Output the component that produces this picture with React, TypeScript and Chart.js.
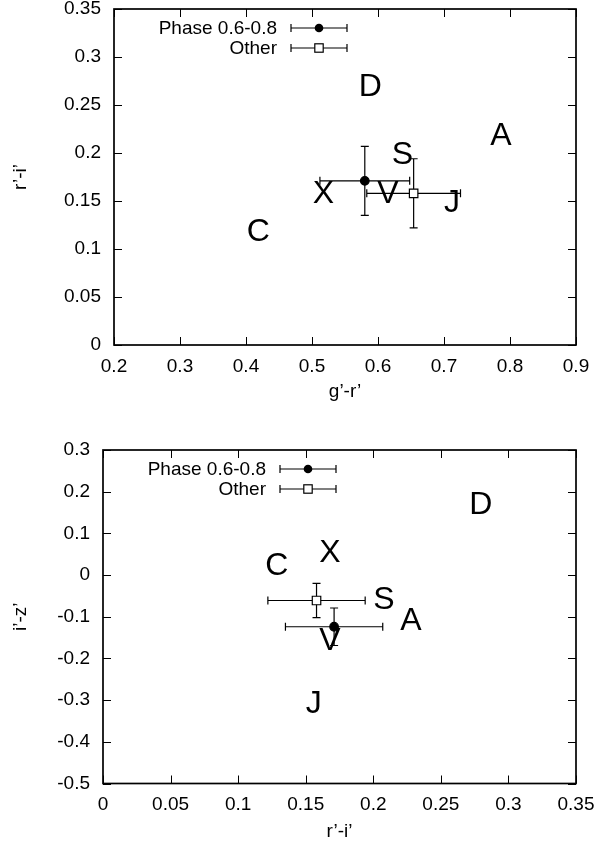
import React, { useEffect, useRef } from "react";
import { Chart, registerables } from "chart.js";

Chart.register(...registerables);

// ---- data ----
const STAR_NAMES = ["A", "C", "D", "J", "S", "V", "X"];
const STAR_GR = [0.770, 0.401, 0.571, 0.700, 0.621, 0.599, 0.501];
const STAR_RI = [0.220, 0.120, 0.271, 0.150, 0.200, 0.160, 0.160];
const STAR_IZ = [-0.105, 0.028, 0.175, -0.304, -0.053, -0.153, 0.060];

const SERIES_NAMES = ["Phase 0.6-0.8", "Other"];
const SERIES_GR = [0.580, 0.654];
const SERIES_GR_ERR = [0.068, 0.071];
const SERIES_RI = [0.171, 0.158];
const SERIES_RI_ERR = [0.036, 0.036];
const SERIES_IZ = [-0.124, -0.061];
const SERIES_IZ_ERR = [0.045, 0.041];

const TOP_X_TICKS = [0.2, 0.3, 0.4, 0.5, 0.6, 0.7, 0.8, 0.9];
const TOP_X_LABELS = ["0.2", "0.3", "0.4", "0.5", "0.6", "0.7", "0.8", "0.9"];
const TOP_Y_TICKS = [0, 0.05, 0.1, 0.15, 0.2, 0.25, 0.3, 0.35];
const TOP_Y_LABELS = ["0", "0.05", "0.1", "0.15", "0.2", "0.25", "0.3", "0.35"];
const BOT_X_TICKS = [0, 0.05, 0.1, 0.15, 0.2, 0.25, 0.3, 0.35];
const BOT_X_LABELS = ["0", "0.05", "0.1", "0.15", "0.2", "0.25", "0.3", "0.35"];
const BOT_Y_TICKS = [-0.5, -0.4, -0.3, -0.2, -0.1, 0, 0.1, 0.2, 0.3];
const BOT_Y_LABELS = ["-0.5", "-0.4", "-0.3", "-0.2", "-0.1", "0", "0.1", "0.2", "0.3"];

const FONT_FAMILY = "'Liberation Sans', Arial, Helvetica, sans-serif";
const TEXT_SIZE = 19;
const LETTER_SIZE = 32;

type Spec = {
  canvasHeight: number;
  areaLeft: number;
  areaRight: number;
  areaTop: number;
  areaBottom: number;
  xTitleBottomOffset: number;
  yTitleCenterX: number;
  xTicks: number[];
  xLabels: string[];
  yTicks: number[];
  yLabels: string[];
  xTitle: string;
  yTitle: string;
  starX: number[];
  starY: number[];
  serX: number[];
  serXErr: number[];
  serY: number[];
  serYErr: number[];
};

const TOP_SPEC: Spec = {
  canvasHeight: 420,
  areaLeft: 114,
  areaRight: 576,
  areaTop: 9,
  areaBottom: 345,
  xTitleBottomOffset: 28,
  yTitleCenterX: 21,
  xTicks: TOP_X_TICKS,
  xLabels: TOP_X_LABELS,
  yTicks: TOP_Y_TICKS,
  yLabels: TOP_Y_LABELS,
  xTitle: "g\u2019-r\u2019",
  yTitle: "r\u2019-i\u2019",
  starX: STAR_GR,
  starY: STAR_RI,
  serX: SERIES_GR,
  serXErr: SERIES_GR_ERR,
  serY: SERIES_RI,
  serYErr: SERIES_RI_ERR,
};

const BOT_SPEC: Spec = {
  canvasHeight: 429,
  areaLeft: 103,
  areaRight: 576,
  areaTop: 30,
  areaBottom: 363.5,
  xTitleBottomOffset: 17,
  yTitleCenterX: 21,
  xTicks: BOT_X_TICKS,
  xLabels: BOT_X_LABELS,
  yTicks: BOT_Y_TICKS,
  yLabels: BOT_Y_LABELS,
  xTitle: "r\u2019-i\u2019",
  yTitle: "i\u2019-z\u2019",
  starX: STAR_RI,
  starY: STAR_IZ,
  serX: SERIES_RI,
  serXErr: SERIES_RI_ERR,
  serY: SERIES_IZ,
  serYErr: SERIES_IZ_ERR,
};

function makeDecorPlugin(spec: Spec) {
  return {
    id: "decor",
    beforeDatasetsDraw(chart: any) {
      const xs = chart.scales.x;
      const ys = chart.scales.y;
      const ctx = chart.ctx;
      ctx.save();
      ctx.strokeStyle = "#000";
      ctx.lineWidth = 1.2;
      const cap = 4;
      for (let i = 0; i < spec.serX.length; i++) {
        const cx = xs.getPixelForValue(spec.serX[i]);
        const cy = ys.getPixelForValue(spec.serY[i]);
        const x0 = xs.getPixelForValue(spec.serX[i] - spec.serXErr[i]);
        const x1 = xs.getPixelForValue(spec.serX[i] + spec.serXErr[i]);
        const y0 = ys.getPixelForValue(spec.serY[i] - spec.serYErr[i]);
        const y1 = ys.getPixelForValue(spec.serY[i] + spec.serYErr[i]);
        ctx.beginPath();
        ctx.moveTo(x0, cy);
        ctx.lineTo(x1, cy);
        ctx.moveTo(x0, cy - cap);
        ctx.lineTo(x0, cy + cap);
        ctx.moveTo(x1, cy - cap);
        ctx.lineTo(x1, cy + cap);
        ctx.moveTo(cx, y0);
        ctx.lineTo(cx, y1);
        ctx.moveTo(cx - cap, y0);
        ctx.lineTo(cx + cap, y0);
        ctx.moveTo(cx - cap, y1);
        ctx.lineTo(cx + cap, y1);
        ctx.stroke();
      }
      ctx.restore();
    },
    afterDraw(chart: any) {
      const xs = chart.scales.x;
      const ys = chart.scales.y;
      const area = chart.chartArea;
      const ctx = chart.ctx;
      ctx.save();
      // tick marks inside, mirrored
      ctx.strokeStyle = "#000";
      ctx.lineWidth = 1;
      const tl = 8;
      ctx.beginPath();
      spec.xTicks.forEach((v) => {
        const px = Math.round(xs.getPixelForValue(v)) + 0.5;
        ctx.moveTo(px, area.bottom);
        ctx.lineTo(px, area.bottom - tl);
        ctx.moveTo(px, area.top);
        ctx.lineTo(px, area.top + tl);
      });
      spec.yTicks.forEach((v) => {
        const py = Math.round(ys.getPixelForValue(v)) + 0.5;
        ctx.moveTo(area.left, py);
        ctx.lineTo(area.left + tl, py);
        ctx.moveTo(area.right, py);
        ctx.lineTo(area.right - tl, py);
      });
      ctx.stroke();
      // border box
      ctx.lineWidth = 1.7;
      ctx.strokeRect(area.left, area.top, area.right - area.left, area.bottom - area.top);

      // star letters (left-justified at the point, vertically centred)
      ctx.fillStyle = "#000";
      ctx.font = `${LETTER_SIZE}px ${FONT_FAMILY}`;
      ctx.textAlign = "left";
      ctx.textBaseline = "alphabetic";
      STAR_NAMES.forEach((name, i) => {
        const px = xs.getPixelForValue(spec.starX[i]);
        const py = ys.getPixelForValue(spec.starY[i]);
        ctx.fillText(name, px, py + LETTER_SIZE * 0.358);
      });

      // key
      ctx.font = `${TEXT_SIZE}px ${FONT_FAMILY}`;
      ctx.textAlign = "right";
      ctx.textBaseline = "middle";
      SERIES_NAMES.forEach((name, i) => {
        const ry = area.top + 19 + 20 * i;
        ctx.fillStyle = "#000";
        ctx.fillText(name, area.left + 163, ry + 1);
        const l = area.left + 177;
        const r = area.left + 233;
        const m = (l + r) / 2;
        ctx.lineWidth = 1.2;
        ctx.beginPath();
        ctx.moveTo(l, ry);
        ctx.lineTo(r, ry);
        ctx.moveTo(l, ry - 4);
        ctx.lineTo(l, ry + 4);
        ctx.moveTo(r, ry - 4);
        ctx.lineTo(r, ry + 4);
        ctx.stroke();
        if (i === 0) {
          ctx.beginPath();
          ctx.arc(m, ry, 4.3, 0, Math.PI * 2);
          ctx.fill();
        } else {
          ctx.fillStyle = "#fff";
          ctx.fillRect(m - 4.2, ry - 4.2, 8.4, 8.4);
          ctx.strokeRect(m - 4.2, ry - 4.2, 8.4, 8.4);
        }
      });
      ctx.restore();
    },
  };
}

function buildChart(canvas: HTMLCanvasElement, spec: Spec) {
  const font = { family: FONT_FAMILY, size: TEXT_SIZE };
  const lineHeight = TEXT_SIZE * 1.2;
  return new Chart(canvas, {
    type: "scatter",
    data: {
      datasets: SERIES_NAMES.map((name, i) => ({
        label: name,
        data: [{ x: spec.serX[i], y: spec.serY[i] }],
        pointStyle: i === 0 ? "circle" : "rect",
        pointRadius: i === 0 ? 4.3 : 6,
        backgroundColor: i === 0 ? "#000" : "#fff",
        borderColor: "#000",
        borderWidth: 1.2,
        showLine: false,
      })),
    },
    options: {
      animation: false,
      responsive: false,
      events: [],
      layout: {
        padding: {
          left: 0,
          right: 598 - spec.areaRight,
          top: spec.areaTop,
          bottom: 0,
        },
      },
      plugins: {
        legend: { display: false },
        tooltip: { enabled: false },
      },
      scales: {
        x: {
          type: "linear",
          position: "bottom",
          min: spec.xTicks[0],
          max: spec.xTicks[spec.xTicks.length - 1],
          afterBuildTicks: (s: any) => {
            s.ticks = spec.xTicks.map((v) => ({ value: v }));
          },
          afterFit: (s: any) => {
            s.height = spec.canvasHeight - spec.areaBottom;
            s.paddingLeft = 0;
            s.paddingRight = 0;
            s.paddingTop = 0;
            s.paddingBottom = 0;
          },
          ticks: {
            callback: (_v: any, i: number) => spec.xLabels[i],
            color: "#000",
            font,
            padding: 10,
            maxRotation: 0,
            minRotation: 0,
            autoSkip: false,
          },
          grid: { display: false, drawTicks: false },
          border: { display: false },
          title: {
            display: true,
            text: spec.xTitle,
            color: "#000",
            font,
            padding: { top: 0, bottom: spec.xTitleBottomOffset - lineHeight / 2 },
          },
        },
        y: {
          type: "linear",
          position: "left",
          min: spec.yTicks[0],
          max: spec.yTicks[spec.yTicks.length - 1],
          afterBuildTicks: (s: any) => {
            s.ticks = spec.yTicks.map((v) => ({ value: v }));
          },
          afterFit: (s: any) => {
            s.width = spec.areaLeft;
            s.paddingLeft = 0;
            s.paddingRight = 0;
            s.paddingTop = 0;
            s.paddingBottom = 0;
          },
          ticks: {
            callback: (_v: any, i: number) => spec.yLabels[i],
            color: "#000",
            font,
            padding: 13,
            autoSkip: false,
          },
          grid: { display: false, drawTicks: false },
          border: { display: false },
          title: {
            display: true,
            text: spec.yTitle,
            color: "#000",
            font,
            padding: { top: spec.yTitleCenterX - lineHeight / 2, bottom: 0 },
          },
        },
      },
    },
    plugins: [makeDecorPlugin(spec)],
  } as any);
}

export default function App() {
  const topRef = useRef<HTMLCanvasElement | null>(null);
  const botRef = useRef<HTMLCanvasElement | null>(null);

  useEffect(() => {
    const c1 = buildChart(topRef.current as HTMLCanvasElement, TOP_SPEC);
    const c2 = buildChart(botRef.current as HTMLCanvasElement, BOT_SPEC);
    return () => {
      c1.destroy();
      c2.destroy();
    };
  }, []);

  return (
    <div
      style={{
        position: "absolute",
        left: 0,
        top: 0,
        width: 598,
        height: 849,
        background: "#fff",
        overflow: "hidden",
      }}
    >
      <canvas
        ref={topRef}
        width={598}
        height={TOP_SPEC.canvasHeight}
        style={{ position: "absolute", left: 0, top: 0, width: 598, height: TOP_SPEC.canvasHeight }}
      />
      <canvas
        ref={botRef}
        width={598}
        height={BOT_SPEC.canvasHeight}
        style={{
          position: "absolute",
          left: 0,
          top: TOP_SPEC.canvasHeight,
          width: 598,
          height: BOT_SPEC.canvasHeight,
        }}
      />
    </div>
  );
}
